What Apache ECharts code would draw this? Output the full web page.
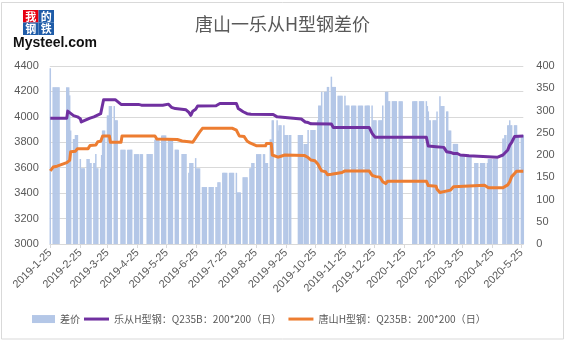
<!DOCTYPE html>
<html><head><meta charset="utf-8">
<script src="https://cdn.jsdelivr.net/npm/echarts@6/dist/echarts.min.js"></script>
<style>html,body{margin:0;padding:0;background:#fff}#c{width:565px;height:344px}</style>
</head><body><div id="c"></div>
<script>
// x-axis tick labels (one per month, on the 25th)
const tickLabels = ['2019-1-25','2019-2-25','2019-3-25','2019-4-25','2019-5-25','2019-6-25','2019-7-25','2019-8-25','2019-9-25','2019-10-25','2019-11-25','2019-12-25','2020-1-25','2020-2-25','2020-3-25','2020-4-25','2020-5-25'];

// weekend days that were trading days (holiday make-up days)
const makeupDays = ['2019-02-02','2019-02-03','2019-04-28','2019-05-05','2019-09-29','2019-10-12','2020-04-26','2020-05-09'];

// 差价 (right axis): [from, to, value] runs of trading days
const diffRuns = [
 ['2019-01-25','2019-01-25',395],
 ['2019-01-28','2019-02-03',352],
 ['2019-02-11','2019-02-13',352],
 ['2019-02-14','2019-02-14',334],
 ['2019-02-15','2019-02-15',255],
 ['2019-02-18','2019-02-19',236],
 ['2019-02-20','2019-02-22',245],
 ['2019-02-25','2019-02-25',191],
 ['2019-02-26','2019-03-01',170],
 ['2019-03-04','2019-03-06',191],
 ['2019-03-07','2019-03-12',182],
 ['2019-03-13','2019-03-13',202],
 ['2019-03-14','2019-03-18',170],
 ['2019-03-19','2019-03-19',200],
 ['2019-03-20','2019-03-22',255],
 ['2019-03-25','2019-03-26',289],
 ['2019-03-27','2019-03-29',310],
 ['2019-04-01','2019-04-01',310],
 ['2019-04-02','2019-04-04',278],
 ['2019-04-08','2019-04-19',212],
 ['2019-04-22','2019-04-30',202],
 ['2019-05-05','2019-05-10',202],
 ['2019-05-13','2019-05-17',235],
 ['2019-05-20','2019-05-24',244],
 ['2019-05-27','2019-05-31',235],
 ['2019-06-03','2019-06-06',212],
 ['2019-06-10','2019-06-14',202],
 ['2019-06-17','2019-06-17',160],
 ['2019-06-18','2019-06-21',182],
 ['2019-06-24','2019-06-24',193],
 ['2019-06-25','2019-06-28',170],
 ['2019-07-01','2019-07-16',128],
 ['2019-07-17','2019-07-19',139],
 ['2019-07-22','2019-08-05',160],
 ['2019-08-06','2019-08-09',116],
 ['2019-08-12','2019-08-16',150],
 ['2019-08-19','2019-08-20',170],
 ['2019-08-21','2019-08-23',182],
 ['2019-08-26','2019-09-03',202],
 ['2019-09-04','2019-09-06',182],
 ['2019-09-09','2019-09-10',235],
 ['2019-09-11','2019-09-12',278],
 ['2019-09-16','2019-09-16',278],
 ['2019-09-17','2019-09-17',255],
 ['2019-09-18','2019-09-23',267],
 ['2019-09-24','2019-09-30',245],
 ['2019-10-08','2019-10-12',245],
 ['2019-10-14','2019-10-17',225],
 ['2019-10-18','2019-10-25',256],
 ['2019-10-28','2019-10-28',278],
 ['2019-10-29','2019-10-31',311],
 ['2019-11-01','2019-11-06',342],
 ['2019-11-07','2019-11-08',353],
 ['2019-11-11','2019-11-11',376],
 ['2019-11-12','2019-11-15',353],
 ['2019-11-18','2019-11-25',333],
 ['2019-11-26','2019-12-23',311],
 ['2019-12-24','2020-01-02',278],
 ['2020-01-03','2020-01-03',311],
 ['2020-01-06','2020-01-08',342],
 ['2020-01-09','2020-01-23',321],
 ['2020-02-03','2020-02-17',321],
 ['2020-02-18','2020-02-18',310],
 ['2020-02-19','2020-02-19',298],
 ['2020-02-20','2020-02-27',278],
 ['2020-02-28','2020-02-28',298],
 ['2020-03-02','2020-03-02',332],
 ['2020-03-03','2020-03-06',310],
 ['2020-03-09','2020-03-10',298],
 ['2020-03-11','2020-03-13',255],
 ['2020-03-16','2020-03-20',225],
 ['2020-03-23','2020-04-03',199],
 ['2020-04-07','2020-04-20',182],
 ['2020-04-21','2020-04-30',191],
 ['2020-05-06','2020-05-07',237],
 ['2020-05-08','2020-05-09',245],
 ['2020-05-11','2020-05-12',267],
 ['2020-05-13','2020-05-13',278],
 ['2020-05-14','2020-05-20',267],
 ['2020-05-21','2020-05-27',245]
];

// 乐从H型钢 (left axis), price at each change point
const lecongPrice = [
 ['2019-01-25',3990],['2019-02-11',3990],['2019-02-12',4045],['2019-02-14',4030],['2019-02-18',4010],
 ['2019-02-22',4000],['2019-02-25',3985],['2019-02-26',3960],['2019-02-28',3965],['2019-03-04',3980],
 ['2019-03-07',3990],['2019-03-11',4000],['2019-03-13',4010],['2019-03-18',4025],['2019-03-19',4025],
 ['2019-03-21',4135],['2019-04-02',4135],['2019-04-04',4120],['2019-04-08',4098],['2019-04-26',4098],
 ['2019-04-29',4092],['2019-05-21',4092],['2019-05-22',4100],['2019-05-27',4100],['2019-05-28',4090],
 ['2019-05-30',4075],['2019-06-03',4065],['2019-06-05',4058],['2019-06-14',4055],['2019-06-17',4035],
 ['2019-06-19',4012],['2019-06-20',4015],['2019-06-21',4045],['2019-06-24',4060],['2019-06-26',4085],
 ['2019-07-15',4087],['2019-07-17',4095],['2019-07-19',4105],['2019-08-05',4105],['2019-08-07',4065],
 ['2019-08-09',4055],['2019-08-12',4040],['2019-08-14',4035],['2019-08-16',4025],['2019-08-20',4020],
 ['2019-09-12',4018],['2019-09-16',4000],['2019-09-17',3985],['2019-10-11',3983],['2019-10-15',3960],
 ['2019-10-18',3955],['2019-10-21',3945],['2019-11-11',3943],['2019-11-13',3917],['2019-12-20',3917],
 ['2019-12-23',3870],['2019-12-26',3840],['2020-02-17',3840],['2020-02-19',3770],['2020-02-27',3765],
 ['2020-03-06',3760],['2020-03-09',3725],['2020-03-13',3720],['2020-03-16',3712],['2020-03-20',3712],
 ['2020-03-23',3700],['2020-03-24',3694],['2020-04-01',3694],['2020-04-02',3682],['2020-04-30',3682],
 ['2020-05-06',3700],['2020-05-08',3712],['2020-05-11',3740],['2020-05-13',3778],['2020-05-15',3800],
 ['2020-05-18',3845],['2020-05-27',3849]
];

// 唐山H型钢 (left axis), price at each change point
const tangshanPrice = [
 ['2019-01-25',3575],['2019-01-28',3605],['2019-02-01',3612],['2019-02-03',3615],['2019-02-11',3640],
 ['2019-02-13',3655],['2019-02-14',3658],['2019-02-15',3725],['2019-02-20',3730],['2019-02-22',3750],
 ['2019-03-05',3750],['2019-03-07',3775],['2019-03-13',3778],['2019-03-15',3805],['2019-03-18',3808],
 ['2019-03-20',3849],['2019-03-27',3849],['2019-03-28',3800],['2019-04-08',3800],['2019-04-09',3849],
 ['2019-05-13',3849],['2019-05-15',3825],['2019-06-05',3822],['2019-06-10',3810],['2019-06-17',3805],
 ['2019-06-19',3790],['2019-06-21',3800],['2019-06-24',3835],['2019-06-26',3840],['2019-06-28',3880],
 ['2019-07-01',3910],['2019-08-01',3910],['2019-08-05',3895],['2019-08-07',3880],['2019-08-08',3850],
 ['2019-08-13',3845],['2019-08-16',3810],['2019-08-19',3795],['2019-08-21',3785],['2019-08-26',3772],
 ['2019-09-04',3772],['2019-09-05',3790],['2019-09-10',3790],['2019-09-11',3700],['2019-09-12',3697],
 ['2019-09-17',3683],['2019-09-20',3690],['2019-09-24',3700],['2019-10-14',3697],['2019-10-18',3680],
 ['2019-10-21',3660],['2019-10-25',3655],['2019-10-28',3630],['2019-10-30',3600],['2019-11-01',3575],
 ['2019-11-05',3568],['2019-11-07',3545],['2019-11-11',3548],['2019-11-13',3560],['2019-11-22',3562],
 ['2019-11-25',3575],['2019-12-20',3575],['2019-12-23',3540],['2019-12-27',3530],['2019-12-31',3526],
 ['2020-01-03',3490],['2020-01-06',3475],['2020-01-08',3494],['2020-02-17',3494],['2020-02-19',3460],
 ['2020-02-27',3455],['2020-02-28',3430],['2020-03-02',3405],['2020-03-03',3420],['2020-03-13',3424],
 ['2020-03-16',3450],['2020-03-17',3462],['2020-04-17',3462],['2020-04-21',3442],['2020-05-06',3442],
 ['2020-05-08',3455],['2020-05-11',3465],['2020-05-13',3490],['2020-05-15',3530],['2020-05-18',3555],
 ['2020-05-20',3572],['2020-05-27',3572]
];

const seriesNames = ['差价', '乐从H型钢：Q235B：200*200（日）', '唐山H型钢：Q235B：200*200（日）'];

function parseDay(s){ const p = s.split('-').map(Number); return new Date(p[0], p[1]-1, p[2]); }
function dayKey(dt){ return dt.getFullYear()+'-'+String(dt.getMonth()+1).padStart(2,'0')+'-'+String(dt.getDate()).padStart(2,'0'); }

const makeup = new Set(makeupDays);
const barData = [];
diffRuns.forEach(function(r){
  const end = parseDay(r[1]).getTime();
  for (let dt = parseDay(r[0]); dt.getTime() <= end; dt.setDate(dt.getDate()+1)) {
    const wd = dt.getDay();
    if ((wd !== 0 && wd !== 6) || makeup.has(dayKey(dt))) barData.push([dt.getTime(), r[2]]);
  }
});
const toPts = arr => arr.map(p => [parseDay(p[0]).getTime(), p[1]]);
const tickTimes = tickLabels.map(s => parseDay(s).getTime());

const CJK = "'Noto Sans CJK SC', sans-serif";
const LAT = "'Liberation Sans', 'Noto Sans CJK SC', sans-serif";
const BLUE = '#1F5CA8';
function cell(x, y, ch, bg){
  return [
    {type:'rect', shape:{x:x, y:y, width:15.5, height:12.5}, style:{fill:bg}, silent:true},
    {type:'text', x:x+7.75, y:y+6.5, silent:true,
     style:{text:ch, fill:'#fff', font:'bold 11px '+CJK, align:'center', verticalAlign:'middle', textAlign:'center', textVerticalAlign:'middle'}}
  ];
}
const legendText = {fontSize: 10.1, color: '#595959', fontFamily: CJK};

const chart = echarts.init(document.getElementById('c'), null, {renderer:'canvas'});
chart.setOption({
  animation: false,
  backgroundColor: '#fff',
  textStyle: {fontFamily: LAT},
  title: {
    text: '唐山一乐从H型钢差价', left: 'center', top: 10,
    textStyle: {fontSize: 18, fontWeight: 'normal', color: '#595959', fontFamily: CJK}
  },
  legend: [
    {left: 32, top: 314, padding: 0, itemWidth: 23, itemHeight: 8, textStyle: legendText,
     data: [{name: seriesNames[0], icon: 'rect'}]},
    {left: 84, top: 314, padding: 0, itemGap: 7, itemWidth: 25, itemHeight: 3, icon: 'rect', textStyle: legendText,
     data: [seriesNames[1], seriesNames[2]]}
  ],
  grid: {left: 49.8, right: 41.7, top: 66, bottom: 100, containLabel: false},
  xAxis: {
    type: 'value',
    min: new Date(2019,0,24,12).getTime(),
    max: new Date(2020,4,27).getTime(),
    axisLine: {show: true, lineStyle: {color: '#D9D9D9', width: 1}},
    axisTick: {show: true, customValues: tickTimes, length: 4, lineStyle: {color: '#D9D9D9'}},
    splitLine: {show: false},
    axisLabel: {
      customValues: tickTimes, rotate: 45, margin: 7, fontSize: 11, color: '#595959',
      formatter: function(v){
        let best = 0, bd = Infinity;
        tickTimes.forEach((t,i)=>{ const d = Math.abs(t - v); if (d < bd){ bd = d; best = i; } });
        return tickLabels[best];
      }
    }
  },
  yAxis: [
    {type: 'value', min: 3000, max: 4400, interval: 200,
     axisLine: {show: false}, axisTick: {show: false},
     splitLine: {lineStyle: {color: '#D9D9D9', width: 1}},
     axisLabel: {fontSize: 11, color: '#595959', margin: 11, formatter: v => String(v)}},
    {type: 'value', min: 0, max: 400, interval: 50, position: 'right',
     axisLine: {show: false}, axisTick: {show: false}, splitLine: {show: false},
     axisLabel: {fontSize: 11, color: '#595959', margin: 13, formatter: v => String(v)}}
  ],
  series: [
    {name: seriesNames[0], type: 'bar', yAxisIndex: 1, data: barData, barWidth: 1.5,
     itemStyle: {color: '#B4C7E7'}, z: 1},
    {name: seriesNames[1], type: 'line', yAxisIndex: 0, data: toPts(lecongPrice), symbol: 'none',
     lineStyle: {color: '#7030A0', width: 3, join: 'round'}, itemStyle: {color: '#7030A0'}, z: 3},
    {name: seriesNames[2], type: 'line', yAxisIndex: 0, data: toPts(tangshanPrice), symbol: 'none',
     lineStyle: {color: '#ED7D31', width: 3, join: 'round'}, itemStyle: {color: '#ED7D31'}, z: 3}
  ],
  graphic: [
    {type:'rect', shape:{x:1.5, y:2.5, width:562, height:336.5}, style:{fill:'none', stroke:'#D9D9D9', lineWidth:1}, silent:true, z:-10},
    ...cell(23, 10, '我', '#E60012'),
    ...cell(38.5, 10, '的', BLUE),
    ...cell(23, 22.5, '钢', BLUE),
    ...cell(38.5, 22.5, '铁', BLUE),
    {type:'text', x: 13, y: 43, silent: true,
     style:{text:'Mysteel.com', fill:'#111', font:"bold 14px 'Liberation Sans Narrow', 'Liberation Sans', sans-serif", align:'left', verticalAlign:'middle', textAlign:'left', textVerticalAlign:'middle'}}
  ]
});
</script>
</body></html>
